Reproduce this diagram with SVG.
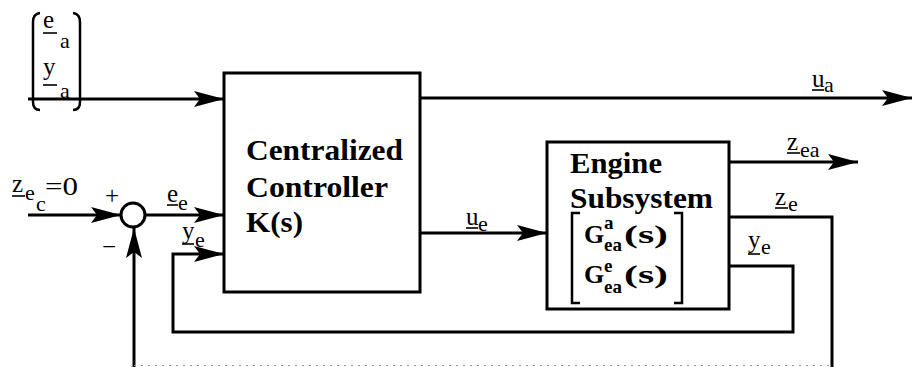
<svg xmlns="http://www.w3.org/2000/svg" width="914" height="367" viewBox="0 0 914 367">
<defs>
<marker id="ah" markerUnits="userSpaceOnUse" markerWidth="32" markerHeight="16" refX="30" refY="8" orient="auto">
<path d="M0,0 L30,8 L0,16 L6,8 z" fill="#000"/>
</marker>
<style>
.ln{fill:none;stroke:#000;stroke-width:3}
.box{fill:#fff;stroke:#000;stroke-width:3}
text{font-family:"Liberation Serif","Times New Roman",serif;fill:#000}
.bt{font-weight:bold;font-size:30px}
.mt{font-weight:bold;font-size:26px}
.ms{font-weight:bold;font-size:19px}
.lb{font-size:25px}
.sb{font-size:22px}
.ul{stroke:#000;stroke-width:1.6}
.br{fill:none;stroke:#000;stroke-width:2.5}
</style>
</defs>
<rect width="914" height="367" fill="#fff"/>
<g id="connectors">
<path class="ln" d="M28,99 H224" marker-end="url(#ah)"/>
<path class="ln" d="M420,98 H912" marker-end="url(#ah)"/>
<path class="ln" d="M28,215 H121" marker-end="url(#ah)"/>
<path class="ln" d="M145,215 H224" marker-end="url(#ah)"/>
<path class="ln" d="M729,266 H793 V332 H173 V254 H224" marker-end="url(#ah)"/>
<path class="ln" d="M420,233 H547" marker-end="url(#ah)"/>
<path class="ln" d="M729,162 H858" marker-end="url(#ah)"/>
<path class="ln" d="M729,217 H832 V367"/>
<path class="ln" d="M134,367 V228" marker-end="url(#ah)"/>
<path d="M134,365.5 H832" fill="none" stroke="#999" stroke-width="1" stroke-dasharray="2 5"/>
</g>
<g id="input-vector">
<path class="br" d="M40,13 Q33,14 33,22 V102 Q33,110 40,110"/>
<path class="br" d="M73,13 Q80,14 80,22 V102 Q80,110 73,110"/>
<text class="lb" x="43" y="28">e</text>
<line class="ul" x1="43" y1="33" x2="57" y2="33"/>
<text class="sb" x="60" y="48">a</text>
<text class="lb" x="43" y="75">y</text>
<line class="ul" x1="43" y1="85" x2="57" y2="85"/>
<text class="sb" x="60" y="98">a</text>
</g>
<g id="reference-input">
<text class="lb" x="12" y="192">z</text>
<line class="ul" x1="12" y1="196" x2="25" y2="196"/>
<text class="sb" x="25" y="200">e</text>
<text class="sb" x="36" y="211">c</text>
<text class="lb" x="45" y="195" font-size="28" textLength="33" lengthAdjust="spacingAndGlyphs">=0</text>
</g>
<g id="sum-junction">
<circle cx="133" cy="215" r="12" fill="#fff" stroke="#000" stroke-width="3"/>
<text class="lb" x="105" y="204" font-size="28">+</text>
<text class="lb" x="102" y="255" font-size="28">−</text>
</g>
<g id="controller">
<rect class="box" x="224" y="73" width="196" height="219"/>
<text class="bt" x="246" y="160" textLength="157" lengthAdjust="spacingAndGlyphs">Centralized</text>
<text class="bt" x="246" y="197" textLength="142" lengthAdjust="spacingAndGlyphs">Controller</text>
<text class="bt" x="246" y="232" textLength="57" lengthAdjust="spacingAndGlyphs">K(s)</text>
</g>
<g id="engine">
<rect class="box" x="547" y="142" width="182" height="167"/>
<text class="bt" x="570" y="173" textLength="92" lengthAdjust="spacingAndGlyphs">Engine</text>
<text class="bt" x="570" y="208" textLength="143" lengthAdjust="spacingAndGlyphs">Subsystem</text>
<path class="br" d="M580,213 H572 V303 H580"/>
<path class="br" d="M674,213 H682 V303 H674"/>
<text class="mt" x="584" y="243">G</text>
<text class="ms" x="604" y="229">a</text>
<text class="ms" x="604" y="251">ea</text>
<text class="mt" x="624" y="243" textLength="44" lengthAdjust="spacingAndGlyphs">(s)</text>
<text class="mt" x="584" y="283">G</text>
<text class="ms" x="604" y="272">e</text>
<text class="ms" x="604" y="293">ea</text>
<text class="mt" x="624" y="283" textLength="44" lengthAdjust="spacingAndGlyphs">(s)</text>
</g>
<g id="labels">
<text class="lb" x="167" y="202">e</text>
<line class="ul" x1="167" y1="205" x2="178" y2="205"/>
<text class="sb" x="178" y="210">e</text>
<text class="lb" x="182" y="239">y</text>
<line class="ul" x1="182" y1="244" x2="194" y2="244"/>
<text class="sb" x="195" y="247">e</text>
<text class="lb" x="466" y="225">u</text>
<line class="ul" x1="466" y1="228" x2="478" y2="228"/>
<text class="sb" x="478" y="231">e</text>
<text class="lb" x="812" y="87">u</text>
<line class="ul" x1="812" y1="90" x2="824" y2="90"/>
<text class="sb" x="824" y="92">a</text>
<text class="lb" x="787" y="150">z</text>
<line class="ul" x1="787" y1="153" x2="800" y2="153"/>
<text class="sb" x="800" y="157">ea</text>
<text class="lb" x="775" y="205">z</text>
<line class="ul" x1="775" y1="208" x2="788" y2="208"/>
<text class="sb" x="788" y="211">e</text>
<text class="lb" x="748" y="248">y</text>
<line class="ul" x1="748" y1="254" x2="760" y2="254"/>
<text class="sb" x="761" y="254">e</text>
</g>
</svg>
